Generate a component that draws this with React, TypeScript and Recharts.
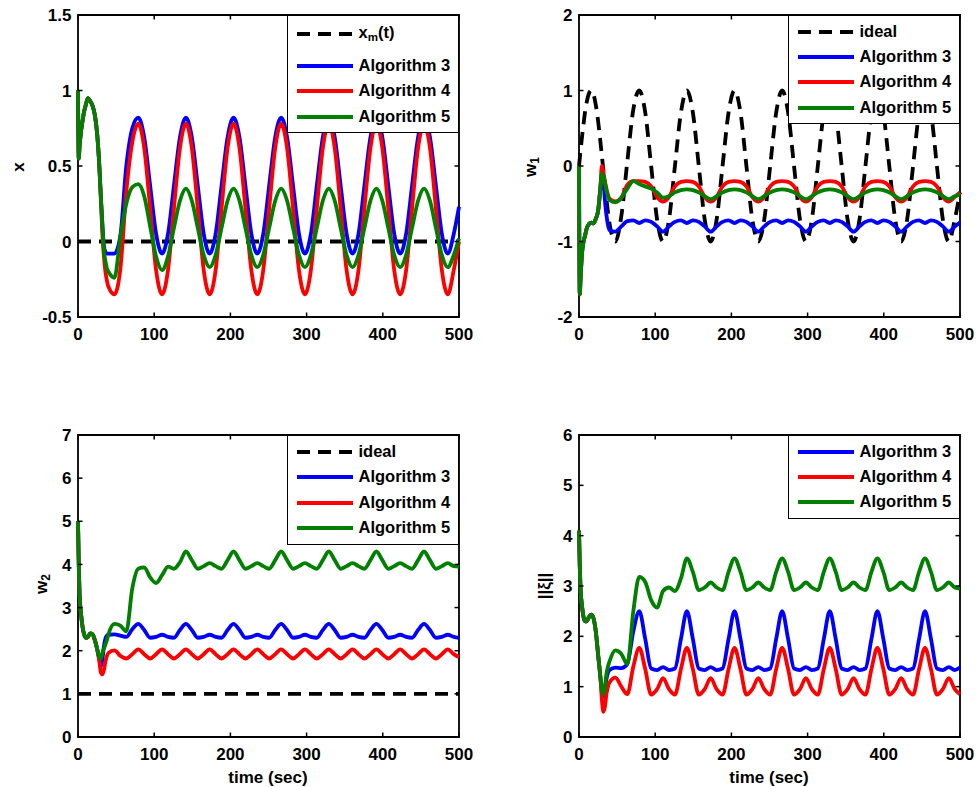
import React from "react";
import { LineChart, Line, XAxis, YAxis, ReferenceArea, Legend } from "recharts";

// sample times (sec): dense at start-up, then 8 samples per cycle
const time = [
  0, 1, 2, 4, 6, 8, 10, 13, 16, 19, 22, 25, 28, 30, 32, 34, 36, 38,
  40, 47.8, 55.6, 63.4, 71.3,
  79.1, 86.9, 94.7, 102.5, 110.3, 118.1, 125.9, 133.8,
  141.6, 149.4, 157.2, 165, 172.8, 180.6, 188.4, 196.3,
  204.1, 211.9, 219.7, 227.5, 235.3, 243.1, 250.9, 258.8,
  266.6, 274.4, 282.2, 290, 297.8, 305.6, 313.4, 321.3,
  329.1, 336.9, 344.7, 352.5, 360.3, 368.1, 375.9, 383.8,
  391.6, 399.4, 407.2, 415, 422.8, 430.6, 438.4, 446.3,
  454.1, 461.9, 469.7, 477.5, 485.3, 493.1, 500,
];

// state x
const xAlg3 = [
  1.0, 0.55, 0.63, 0.73, 0.8, 0.86, 0.9, 0.95, 0.93, 0.9, 0.84, 0.72, 0.5, 0.3, 0.12, -0.03, -0.07, -0.08,
  -0.08, -0.08, 0.04, 0.5, 0.75,
  0.82, 0.69, 0.37, 0.05, -0.08, 0.05, 0.37, 0.69,
  0.82, 0.69, 0.37, 0.05, -0.08, 0.05, 0.37, 0.69,
  0.82, 0.69, 0.37, 0.05, -0.08, 0.05, 0.37, 0.69,
  0.82, 0.69, 0.37, 0.05, -0.08, 0.05, 0.37, 0.69,
  0.82, 0.69, 0.37, 0.05, -0.08, 0.05, 0.37, 0.69,
  0.82, 0.69, 0.37, 0.05, -0.08, 0.05, 0.37, 0.69,
  0.82, 0.69, 0.37, 0.05, -0.08, 0.05, 0.23,
];
const xAlg4 = [
  1.0, 0.55, 0.63, 0.73, 0.8, 0.86, 0.9, 0.95, 0.93, 0.9, 0.84, 0.72, 0.5, 0.28, 0.05, -0.1, -0.2, -0.26,
  -0.3, -0.35, -0.18, 0.33, 0.66,
  0.78, 0.62, 0.22, -0.19, -0.35, -0.19, 0.22, 0.62,
  0.78, 0.62, 0.22, -0.19, -0.35, -0.19, 0.22, 0.62,
  0.78, 0.62, 0.22, -0.19, -0.35, -0.19, 0.22, 0.62,
  0.78, 0.62, 0.22, -0.19, -0.35, -0.19, 0.22, 0.62,
  0.78, 0.62, 0.22, -0.19, -0.35, -0.19, 0.22, 0.62,
  0.78, 0.62, 0.22, -0.19, -0.35, -0.19, 0.22, 0.62,
  0.78, 0.62, 0.22, -0.19, -0.35, -0.19, 0.0,
];
const xAlg5 = [
  1.0, 0.55, 0.63, 0.73, 0.8, 0.86, 0.9, 0.95, 0.93, 0.9, 0.84, 0.72, 0.5, 0.29, 0.1, -0.06, -0.13, -0.18,
  -0.2, -0.24, 0.03, 0.25, 0.36,
  0.38, 0.3, 0.1, -0.1, -0.19, -0.1, 0.09, 0.27,
  0.35, 0.27, 0.09, -0.09, -0.17, -0.09, 0.09, 0.27,
  0.35, 0.27, 0.09, -0.09, -0.17, -0.09, 0.09, 0.27,
  0.35, 0.27, 0.09, -0.09, -0.17, -0.09, 0.09, 0.27,
  0.35, 0.27, 0.09, -0.09, -0.17, -0.09, 0.09, 0.27,
  0.35, 0.27, 0.09, -0.09, -0.17, -0.09, 0.09, 0.27,
  0.35, 0.27, 0.09, -0.09, -0.17, -0.09, 0.02,
];
const xmTime = [0, 500];
const xmValue = [0, 0];

// weight w1
const w1Ideal = [
  0, 0.1, 0.2, 0.39, 0.56, 0.72, 0.84, 0.96, 1.0, 0.95, 0.81, 0.6, 0.33, 0.14, -0.06, -0.26, -0.44, -0.61,
  -0.76, -1.0, -0.66, 0.06, 0.75,
  1.0, 0.71, 0.0, -0.71, -1.0, -0.71, 0.0, 0.71,
  1.0, 0.71, 0.0, -0.71, -1.0, -0.71, 0.0, 0.71,
  1.0, 0.71, 0.0, -0.71, -1.0, -0.71, 0.0, 0.71,
  1.0, 0.71, 0.0, -0.71, -1.0, -0.71, 0.0, 0.71,
  1.0, 0.71, 0.0, -0.71, -1.0, -0.71, 0.0, 0.71,
  1.0, 0.71, 0.0, -0.71, -1.0, -0.71, 0.0, 0.71,
  1.0, 0.71, 0.0, -0.71, -1.0, -0.71, -0.35,
];
const w1Alg3 = [
  0, -1.7, -1.5, -1.15, -1.0, -0.92, -0.83, -0.77, -0.75, -0.76, -0.7, -0.6, -0.3, -0.12, -0.2, -0.45, -0.65, -0.78,
  -0.85, -0.87, -0.8, -0.73, -0.72,
  -0.755, -0.72, -0.74, -0.8, -0.87, -0.8, -0.74, -0.72,
  -0.755, -0.72, -0.74, -0.8, -0.87, -0.8, -0.74, -0.72,
  -0.755, -0.72, -0.74, -0.8, -0.87, -0.8, -0.74, -0.72,
  -0.755, -0.72, -0.74, -0.8, -0.87, -0.8, -0.74, -0.72,
  -0.755, -0.72, -0.74, -0.8, -0.87, -0.8, -0.74, -0.72,
  -0.755, -0.72, -0.74, -0.8, -0.87, -0.8, -0.74, -0.72,
  -0.755, -0.72, -0.74, -0.8, -0.87, -0.8, -0.75,
];
const w1Alg4 = [
  0, -1.7, -1.5, -1.15, -1.0, -0.92, -0.83, -0.77, -0.75, -0.76, -0.7, -0.6, -0.3, 0.0, -0.08, -0.2, -0.3, -0.38,
  -0.43, -0.47, -0.42, -0.25, -0.2,
  -0.2, -0.21, -0.27, -0.41, -0.47, -0.41, -0.27, -0.21,
  -0.2, -0.21, -0.27, -0.41, -0.47, -0.41, -0.27, -0.21,
  -0.2, -0.21, -0.27, -0.41, -0.47, -0.41, -0.27, -0.21,
  -0.2, -0.21, -0.27, -0.41, -0.47, -0.41, -0.27, -0.21,
  -0.2, -0.21, -0.27, -0.41, -0.47, -0.41, -0.27, -0.21,
  -0.2, -0.21, -0.27, -0.41, -0.47, -0.41, -0.27, -0.21,
  -0.2, -0.21, -0.27, -0.41, -0.47, -0.41, -0.35,
];
const w1Alg5 = [
  0, -1.7, -1.5, -1.15, -1.0, -0.92, -0.83, -0.77, -0.75, -0.76, -0.7, -0.6, -0.3, -0.1, -0.13, -0.22, -0.33, -0.4,
  -0.45, -0.48, -0.42, -0.3, -0.2,
  -0.24, -0.27, -0.3, -0.35, -0.42, -0.4, -0.35, -0.32,
  -0.31, -0.32, -0.35, -0.4, -0.44, -0.4, -0.35, -0.32,
  -0.31, -0.32, -0.35, -0.4, -0.44, -0.4, -0.35, -0.32,
  -0.31, -0.32, -0.35, -0.4, -0.44, -0.4, -0.35, -0.32,
  -0.31, -0.32, -0.35, -0.4, -0.44, -0.4, -0.35, -0.32,
  -0.31, -0.32, -0.35, -0.4, -0.44, -0.4, -0.35, -0.32,
  -0.31, -0.32, -0.35, -0.4, -0.44, -0.4, -0.38,
];

// weight w2
const w2Alg3 = [
  5.0, 4.0, 3.3, 2.85, 2.55, 2.38, 2.3, 2.32, 2.4, 2.38, 2.25, 2.05, 1.8, 1.65, 1.8, 2.1, 2.28, 2.35,
  2.37, 2.38, 2.35, 2.32, 2.5,
  2.62, 2.48, 2.3, 2.32, 2.37, 2.32, 2.3, 2.48,
  2.62, 2.48, 2.3, 2.32, 2.37, 2.32, 2.3, 2.48,
  2.62, 2.48, 2.3, 2.32, 2.37, 2.32, 2.3, 2.48,
  2.62, 2.48, 2.3, 2.32, 2.37, 2.32, 2.3, 2.48,
  2.62, 2.48, 2.3, 2.32, 2.37, 2.32, 2.3, 2.48,
  2.62, 2.48, 2.3, 2.32, 2.37, 2.32, 2.3, 2.48,
  2.62, 2.48, 2.3, 2.32, 2.37, 2.32, 2.3,
];
const w2Alg4 = [
  5.0, 4.0, 3.3, 2.85, 2.55, 2.38, 2.3, 2.32, 2.4, 2.38, 2.25, 2.05, 1.75, 1.5, 1.45, 1.55, 1.75, 1.88,
  1.95, 2.01, 1.88, 1.82, 1.92,
  2.03, 1.92, 1.82, 1.92, 2.03, 1.92, 1.82, 1.92,
  2.03, 1.92, 1.82, 1.92, 2.03, 1.92, 1.82, 1.92,
  2.03, 1.92, 1.82, 1.92, 2.03, 1.92, 1.82, 1.92,
  2.03, 1.92, 1.82, 1.92, 2.03, 1.92, 1.82, 1.92,
  2.03, 1.92, 1.82, 1.92, 2.03, 1.92, 1.82, 1.92,
  2.03, 1.92, 1.82, 1.92, 2.03, 1.92, 1.82, 1.92,
  2.03, 1.92, 1.82, 1.92, 2.03, 1.92, 1.85,
];
const w2Alg5 = [
  5.0, 4.0, 3.3, 2.85, 2.55, 2.38, 2.3, 2.32, 2.4, 2.38, 2.25, 2.05, 1.85, 1.82, 1.95, 2.05, 2.15, 2.25,
  2.38, 2.62, 2.58, 2.45, 3.45,
  3.9, 3.93, 3.7, 3.57, 3.75, 3.95, 3.9, 4.05,
  4.3, 4.1, 3.9, 3.96, 4.03, 3.96, 3.9, 4.1,
  4.3, 4.1, 3.9, 3.96, 4.03, 3.96, 3.9, 4.1,
  4.3, 4.1, 3.9, 3.96, 4.03, 3.96, 3.9, 4.1,
  4.3, 4.1, 3.9, 3.96, 4.03, 3.96, 3.9, 4.1,
  4.3, 4.1, 3.9, 3.96, 4.03, 3.96, 3.9, 4.1,
  4.3, 4.1, 3.9, 3.96, 4.03, 3.96, 3.95,
];
const w2IdealTime = [0, 500];
const w2IdealValue = [1, 1];

// norm of xi
const xiAlg3 = [
  4.1, 3.4, 2.95, 2.6, 2.38, 2.3, 2.3, 2.38, 2.43, 2.36, 2.1, 1.65, 1.2, 0.9, 0.8, 0.95, 1.15, 1.28,
  1.33, 1.38, 1.37, 1.45, 2.1,
  2.5, 1.95, 1.36, 1.33, 1.39, 1.33, 1.36, 1.95,
  2.5, 1.95, 1.36, 1.33, 1.39, 1.33, 1.36, 1.95,
  2.5, 1.95, 1.36, 1.33, 1.39, 1.33, 1.36, 1.95,
  2.5, 1.95, 1.36, 1.33, 1.39, 1.33, 1.36, 1.95,
  2.5, 1.95, 1.36, 1.33, 1.39, 1.33, 1.36, 1.95,
  2.5, 1.95, 1.36, 1.33, 1.39, 1.33, 1.36, 1.95,
  2.5, 1.95, 1.36, 1.33, 1.39, 1.33, 1.38,
];
const xiAlg4 = [
  4.1, 3.4, 2.95, 2.6, 2.38, 2.3, 2.3, 2.38, 2.43, 2.36, 2.1, 1.65, 1.2, 0.75, 0.5, 0.6, 0.85, 1.0,
  1.08, 1.18, 1.0, 0.85, 1.4,
  1.77, 1.35, 0.84, 0.95, 1.17, 0.95, 0.84, 1.35,
  1.77, 1.35, 0.84, 0.95, 1.17, 0.95, 0.84, 1.35,
  1.77, 1.35, 0.84, 0.95, 1.17, 0.95, 0.84, 1.35,
  1.77, 1.35, 0.84, 0.95, 1.17, 0.95, 0.84, 1.35,
  1.77, 1.35, 0.84, 0.95, 1.17, 0.95, 0.84, 1.35,
  1.77, 1.35, 0.84, 0.95, 1.17, 0.95, 0.84, 1.35,
  1.77, 1.35, 0.84, 0.95, 1.17, 0.95, 0.85,
];
const xiAlg5 = [
  4.1, 3.4, 2.95, 2.6, 2.38, 2.3, 2.3, 2.38, 2.43, 2.36, 2.1, 1.65, 1.2, 0.95, 0.85, 1.0, 1.25, 1.4,
  1.5, 1.72, 1.65, 1.45, 2.5,
  3.18, 3.08, 2.72, 2.57, 2.9, 2.97, 2.9, 3.15,
  3.55, 3.28, 2.92, 2.97, 3.07, 2.97, 2.92, 3.28,
  3.55, 3.28, 2.92, 2.97, 3.07, 2.97, 2.92, 3.28,
  3.55, 3.28, 2.92, 2.97, 3.07, 2.97, 2.92, 3.28,
  3.55, 3.28, 2.92, 2.97, 3.07, 2.97, 2.92, 3.28,
  3.55, 3.28, 2.92, 2.97, 3.07, 2.97, 2.92, 3.28,
  3.55, 3.28, 2.92, 2.97, 3.07, 2.97, 2.95,
];

const xTicks = [0, 100, 200, 300, 400, 500];
const xYTicks = [-0.5, 0, 0.5, 1, 1.5];
const w1YTicks = [-2, -1, 0, 1, 2];
const w2YTicks = [0, 1, 2, 3, 4, 5, 6, 7];
const xiYTicks = [0, 1, 2, 3, 4, 5, 6];

const rows = time.map((t, i) => ({
  t,
  x3: xAlg3[i], x4: xAlg4[i], x5: xAlg5[i],
  w1i: w1Ideal[i], w13: w1Alg3[i], w14: w1Alg4[i], w15: w1Alg5[i],
  w23: w2Alg3[i], w24: w2Alg4[i], w25: w2Alg5[i],
  xi3: xiAlg3[i], xi4: xiAlg4[i], xi5: xiAlg5[i],
}));
const xmRows = xmTime.map((t, i) => ({ t, v: xmValue[i] }));
const w2IdealRows = w2IdealTime.map((t, i) => ({ t, v: w2IdealValue[i] }));

const FONT = '"Liberation Sans", Arial, Helvetica, sans-serif';
const BLUE = "#0000ff";
const RED = "#ff0000";
const GREEN = "#008000";
const BLACK = "#000000";

const PLOT_W = 381;
const PLOT_H = 302;
const AXIS_W = 60;
const AXIS_H = 50;
const M_TOP = 15;
const M_RIGHT = 25;
const CHART_W = AXIS_W + PLOT_W + M_RIGHT;
const CHART_H = M_TOP + PLOT_H + AXIS_H;
const TICK = 4.5;
const LEG_W = 172;
const LINE_W = 3.8;
const DASH = "13 8";

// inward ticks on bottom and top edge, labels below
const XTick = (props: any) => {
  const { x, payload } = props;
  const bottom = M_TOP + PLOT_H;
  return (
    <g>
      <line x1={x} x2={x} y1={bottom} y2={bottom - TICK} stroke={BLACK} strokeWidth={1.5} />
      <line x1={x} x2={x} y1={M_TOP} y2={M_TOP + TICK} stroke={BLACK} strokeWidth={1.5} />
      <text x={x} y={bottom + 10.5} dy="0.71em" textAnchor="middle" fontSize={17} fontWeight="bold" fontFamily={FONT} fill={BLACK}>
        {payload.value}
      </text>
    </g>
  );
};

// inward ticks on left and right edge, labels to the left
const YTick = (props: any) => {
  const { y, payload } = props;
  return (
    <g>
      <line x1={AXIS_W} x2={AXIS_W + TICK} y1={y} y2={y} stroke={BLACK} strokeWidth={1.5} />
      <line x1={AXIS_W + PLOT_W} x2={AXIS_W + PLOT_W - TICK} y1={y} y2={y} stroke={BLACK} strokeWidth={1.5} />
      <text x={AXIS_W - 6.5} y={y} dy="0.36em" textAnchor="end" fontSize={17} fontWeight="bold" fontFamily={FONT} fill={BLACK}>
        {payload.value}
      </text>
    </g>
  );
};

type Item = { label: React.ReactNode; color: string; dashed?: boolean };

const LegendBox = ({ items, height, rowY }: { items: Item[]; height: number; rowY: number[] }) => (
  <div
    style={{
      position: "relative",
      width: LEG_W,
      height,
      boxSizing: "border-box",
      border: "1.5px solid #000",
      background: "#fff",
      fontFamily: FONT,
      fontWeight: "bold",
      fontSize: 16.5,
      color: BLACK,
    }}
  >
    {items.map((it, i) => (
      <div
        key={i}
        style={{ position: "absolute", left: 0, top: rowY[i] - 1.5 - 12, height: 24, display: "flex", alignItems: "center", whiteSpace: "nowrap" }}
      >
        <svg width={56} height={6} style={{ marginLeft: 9, display: "block" }}>
          <line x1={0} x2={56} y1={3} y2={3} stroke={it.color} strokeWidth={LINE_W} strokeDasharray={it.dashed ? DASH : undefined} />
        </svg>
        <span style={{ marginLeft: 6, lineHeight: 1 }}>{it.label}</span>
      </div>
    ))}
  </div>
);

type SeriesDef = { key: string; color: string; dashed?: boolean; data?: any[] };

type PanelProps = {
  left: number;
  top: number;
  domain: [number, number];
  yTicks: number[];
  series: SeriesDef[];
  legend: Item[];
  legendHeight: number;
  legendRows: number[];
};

function Panel({ left, top, domain, yTicks, series, legend, legendHeight, legendRows }: PanelProps) {
  return (
    <div style={{ position: "absolute", left, top }}>
      <LineChart width={CHART_W} height={CHART_H} data={rows} margin={{ top: M_TOP, right: M_RIGHT, bottom: 0, left: 0 }}>
        <XAxis
          dataKey="t"
          type="number"
          domain={[0, 500]}
          ticks={xTicks}
          interval={0}
          height={AXIS_H}
          axisLine={false}
          tickLine={false}
          tick={XTick}
        />
        <YAxis
          type="number"
          domain={domain}
          ticks={yTicks}
          interval={0}
          width={AXIS_W}
          axisLine={false}
          tickLine={false}
          tick={YTick}
        />
        <ReferenceArea x1={0} x2={500} y1={domain[0]} y2={domain[1]} fill="none" fillOpacity={0} stroke={BLACK} strokeWidth={1.8} />
        {series.map((s) => (
          <Line
            key={s.key}
            data={s.data}
            dataKey={s.key}
            type="monotone"
            stroke={s.color}
            strokeWidth={LINE_W}
            strokeDasharray={s.dashed ? DASH : undefined}
            dot={false}
            activeDot={false}
            isAnimationActive={false}
          />
        ))}
        <Legend
          layout="vertical"
          align="center"
          verticalAlign="middle"
          wrapperStyle={{ top: M_TOP, left: AXIS_W + PLOT_W - LEG_W, width: LEG_W, height: legendHeight }}
          content={() => <LegendBox items={legend} height={legendHeight} rowY={legendRows} />}
        />
      </LineChart>
    </div>
  );
}

const algItems: Item[] = [
  { label: "Algorithm 3", color: BLUE },
  { label: "Algorithm 4", color: RED },
  { label: "Algorithm 5", color: GREEN },
];

const RotLabel = ({ cx, cy, children }: { cx: number; cy: number; children: React.ReactNode }) => (
  <div
    style={{
      position: "absolute",
      left: cx,
      top: cy,
      transform: "translate(-50%, -50%) rotate(-90deg)",
      fontFamily: FONT,
      fontWeight: "bold",
      fontSize: 17,
      lineHeight: 1,
      whiteSpace: "nowrap",
      color: BLACK,
    }}
  >
    {children}
  </div>
);

const XLabel = ({ cx, cy }: { cx: number; cy: number }) => (
  <div
    style={{
      position: "absolute",
      left: cx,
      top: cy,
      transform: "translate(-50%, -50%)",
      fontFamily: FONT,
      fontWeight: "bold",
      fontSize: 17,
      lineHeight: 1,
      whiteSpace: "nowrap",
      color: BLACK,
    }}
  >
    time (sec)
  </div>
);

const subStyle: React.CSSProperties = { fontSize: "0.7em", verticalAlign: "-0.3em" };

export default function App() {
  const leftCol = 77.5 - AXIS_W;
  const rightCol = 578.5 - AXIS_W;
  return (
    <div style={{ position: "absolute", left: 0, top: 0, width: 979, height: 787, background: "#fff", overflow: "hidden" }}>
      <Panel
        left={leftCol}
        top={0}
        domain={[-0.5, 1.5]}
        yTicks={xYTicks}
        series={[
          { key: "v", color: BLACK, dashed: true, data: xmRows },
          { key: "x3", color: BLUE },
          { key: "x4", color: RED },
          { key: "x5", color: GREEN },
        ]}
        legend={[
          { label: <span>x<span style={subStyle}>m</span>(t)</span>, color: BLACK, dashed: true },
          ...algItems,
        ]}
        legendHeight={118}
        legendRows={[19, 51, 76, 102]}
      />
      <Panel
        left={rightCol}
        top={0}
        domain={[-2, 2]}
        yTicks={w1YTicks}
        series={[
          { key: "w1i", color: BLACK, dashed: true },
          { key: "w13", color: BLUE },
          { key: "w14", color: RED },
          { key: "w15", color: GREEN },
        ]}
        legend={[{ label: "ideal", color: BLACK, dashed: true }, ...algItems]}
        legendHeight={109}
        legendRows={[17, 42, 67, 93]}
      />
      <Panel
        left={leftCol}
        top={420}
        domain={[0, 7]}
        yTicks={w2YTicks}
        series={[
          { key: "v", color: BLACK, dashed: true, data: w2IdealRows },
          { key: "w23", color: BLUE },
          { key: "w24", color: RED },
          { key: "w25", color: GREEN },
        ]}
        legend={[{ label: "ideal", color: BLACK, dashed: true }, ...algItems]}
        legendHeight={110}
        legendRows={[17, 42, 68, 93]}
      />
      <Panel
        left={rightCol}
        top={420}
        domain={[0, 6]}
        yTicks={xiYTicks}
        series={[
          { key: "xi3", color: BLUE },
          { key: "xi4", color: RED },
          { key: "xi5", color: GREEN },
        ]}
        legend={algItems}
        legendHeight={84}
        legendRows={[17, 42, 67]}
      />

      <RotLabel cx={18} cy={167}>x</RotLabel>
      <RotLabel cx={532} cy={167}>
        w<span style={subStyle}>1</span>
      </RotLabel>
      <RotLabel cx={42.5} cy={584}>
        w<span style={subStyle}>2</span>
      </RotLabel>
      <RotLabel cx={544} cy={586}>||ξ||</RotLabel>
      <XLabel cx={268} cy={777} />
      <XLabel cx={769} cy={777} />
    </div>
  );
}
